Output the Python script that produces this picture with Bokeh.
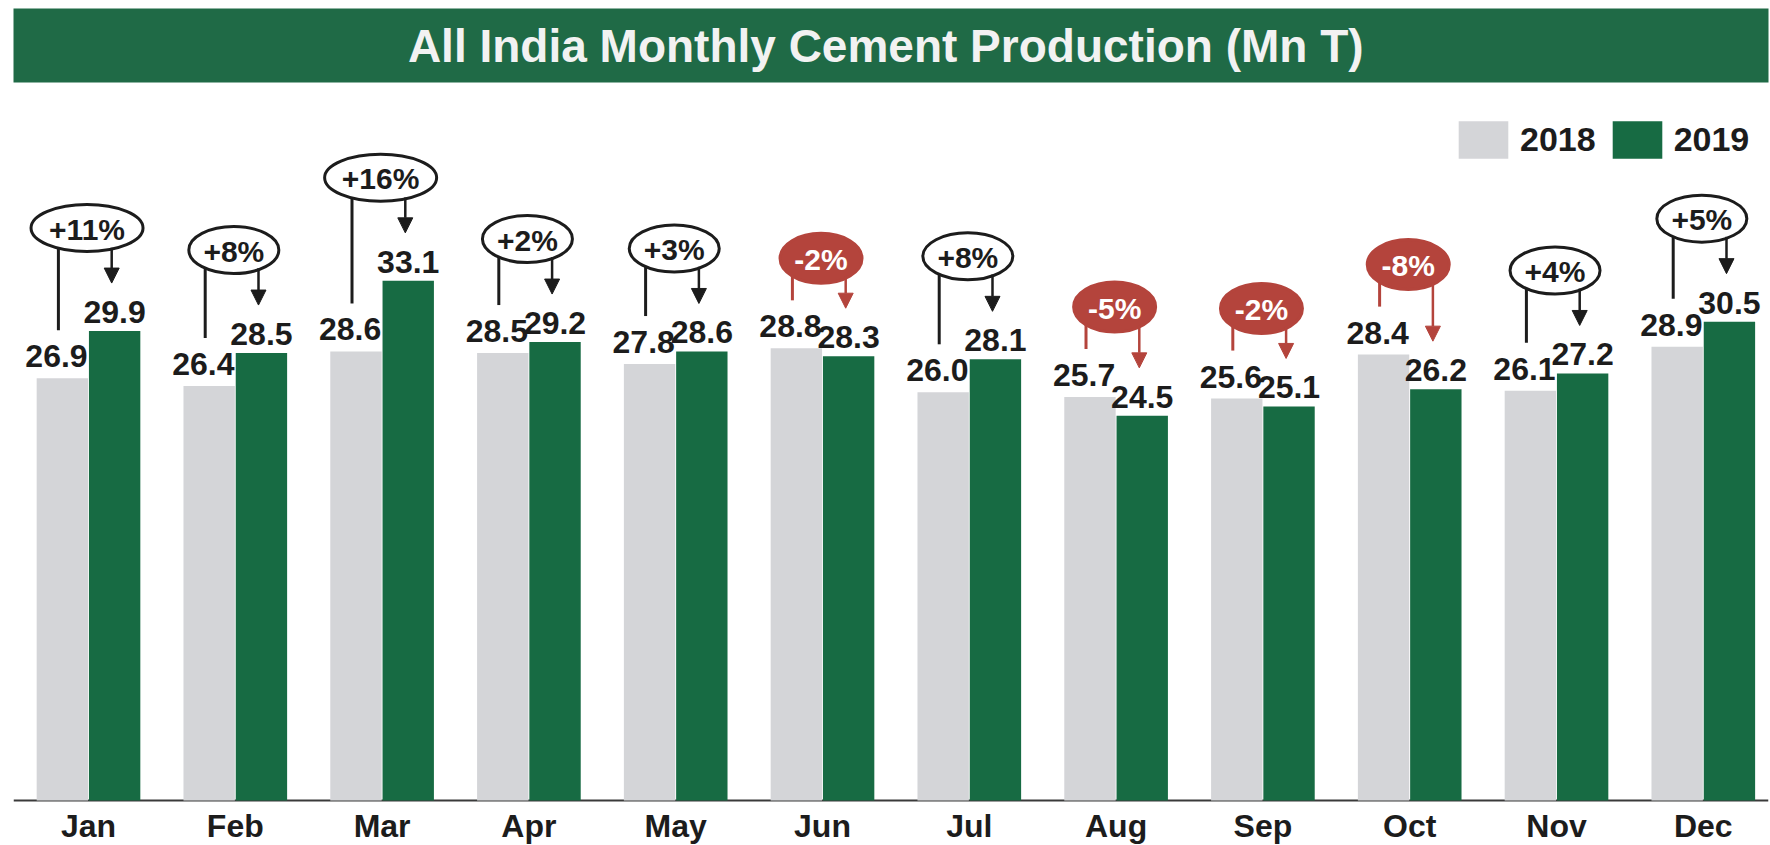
import math
from bokeh.plotting import figure
from bokeh.layouts import column
from bokeh.models import (ColumnDataSource, Range1d, Label, Legend, LegendItem,
                          Span, Arrow, NormalHead)
from bokeh.core.properties import value
from bokeh.embed import file_html
from bokeh.resources import INLINE

# ---------------- data ----------------
months = ["Jan", "Feb", "Mar", "Apr", "May", "Jun",
          "Jul", "Aug", "Sep", "Oct", "Nov", "Dec"]
prod_2018 = [26.9, 26.4, 28.6, 28.5, 27.8, 28.8, 26.0, 25.7, 25.6, 28.4, 26.1, 28.9]
prod_2019 = [29.9, 28.5, 33.1, 29.2, 28.6, 28.3, 28.1, 24.5, 25.1, 26.2, 27.2, 30.5]
growth_pct = [11, 8, 16, 2, 3, -2, 8, -5, -2, -8, 4, 5]
series_names = ["2018", "2019"]
title_text = "All India Monthly Cement Production (Mn T)"

# ---------------- style ----------------
GREEN = "#176b43"
TITLE_GREEN = "#1f6a46"
GREY = "#d4d5d8"
RED = "#b4443c"
INK = "#1c1c1c"
FONT = "Liberation Sans"

W = 1770
HEAD_H = 86
MAIN_H = 759
BL, BR = 13, 2          # side borders shared by both figures
UNIT = 146.8   # px per month slot
PX = 15.7      # px per Mn T
BASE = 714     # px from top of main frame to the zero line

# ---------------- header bar ----------------
header = figure(width=W, height=HEAD_H, x_range=Range1d(0, 1), y_range=Range1d(0, 1),
                toolbar_location=None, output_backend="svg",
                x_axis_location=None, y_axis_location=None,
                min_border_left=BL, min_border_right=BR, min_border_top=8, min_border_bottom=4,
                background_fill_color=TITLE_GREEN, border_fill_color="white",
                outline_line_color=None)
header.grid.visible = False
header.add_layout(Label(x=0.497, y=0.5, text=title_text, text_align="center",
                        text_baseline="middle", text_color="#f2f2f2",
                        text_font=FONT, text_font_size="46px", text_font_style="bold"))

# ---------------- main chart ----------------
FW = W - BL - BR
x0 = -(88 - BL) / UNIT
p = figure(width=W, height=MAIN_H,
           x_range=Range1d(x0, x0 + FW / UNIT),
           y_range=Range1d(-(MAIN_H - BASE) / PX, BASE / PX),
           toolbar_location=None, output_backend="svg",
           x_axis_location=None, y_axis_location=None,
           min_border_left=BL, min_border_right=BR, min_border_top=0, min_border_bottom=0,
           outline_line_color=None,
           background_fill_color="white", border_fill_color="white")
p.grid.visible = False

p.add_layout(Span(location=0, dimension="width", line_color="#3a3a3a",
                  line_width=2, level="underlay"))

OFF = 0.178
BW = 0.35
idx = list(range(len(months)))
x18 = [i - OFF for i in idx]
x19 = [i + OFF for i in idx]

src = ColumnDataSource(dict(
    x18=x18, x19=x19, v18=prod_2018, v19=prod_2019,
    x18l=[x - 0.04 for x in x18],
    t18=[f"{v:.1f}" for v in prod_2018],
    t19=[f"{v:.1f}" for v in prod_2019],
))
r18 = p.vbar(x="x18", top="v18", bottom=0, width=BW, source=src,
             fill_color=GREY, line_color=None)
r19 = p.vbar(x="x19", top="v19", bottom=0, width=BW, source=src,
             fill_color=GREEN, line_color=None)

lab_kw = dict(text_align="center", text_baseline="alphabetic",
              text_font=value(FONT), text_font_size="32px", text_font_style="bold",
              text_color=INK)
p.text(x="x18l", y="v18", text="t18", source=src, y_offset=-22, **lab_kw)
p.text(x="x19", y="v19", text="t19", source=src, y_offset=-19, **lab_kw)

# month labels
p.text(x=idx, y=[0] * len(idx), text=months, y_offset=25,
       text_align="center", text_baseline="middle",
       text_font=value(FONT), text_font_size="32px", text_font_style="bold",
       text_color=INK)

# ---------------- growth call-outs ----------------
ell = dict(x=[], y=[], w=[], h=[], fill=[], line=[], txt=[], tc=[])
segs = {True: dict(x=[], ys=[], ye=[]), False: dict(x=[], ys=[], ye=[])}
arrs = {True: dict(x=[], ys=[], ye=[]), False: dict(x=[], ys=[], ye=[])}

for i, g in enumerate(growth_pct):
    pos = g >= 0
    top = max(prod_2018[i], prod_2019[i])
    ey = top + (103 if pos else 90) / PX
    txt = f"+{g}%" if pos else f"{g}%"
    if pos:
        w = 112 if len(txt) > 3 else 90
        h = 47
    else:
        w, h = 82, 50
    cx = i - 0.01
    ell["x"].append(cx)
    ell["y"].append(ey)
    ell["w"].append(w)
    ell["h"].append(h)
    ell["fill"].append("white" if pos else RED)
    ell["line"].append(INK if pos else RED)
    ell["txt"].append(txt)
    ell["tc"].append(INK if pos else "white")

    def edge(lx, cx=cx, w=w, h=h, ey=ey):
        dx = abs(lx - cx) * UNIT
        r = max(0.0, 1 - (dx / (w / 2)) ** 2)
        return ey - ((h / 2) * math.sqrt(r) - 1.5) / PX

    lx = x18[i] - 0.027
    segs[pos]["x"].append(lx)
    segs[pos]["ys"].append(edge(lx))
    segs[pos]["ye"].append(prod_2018[i] + 48 / PX)

    ax = x19[i] - 0.02
    arrs[pos]["x"].append(ax)
    arrs[pos]["ys"].append(edge(ax))
    arrs[pos]["ye"].append(prod_2019[i] + 48 / PX)

for pos, col in ((True, INK), (False, RED)):
    s = ColumnDataSource(segs[pos])
    p.segment(x0="x", y0="ys", x1="x", y1="ye", source=s,
              line_color=col, line_width=3)
    a = ColumnDataSource(arrs[pos])
    p.add_layout(Arrow(end=NormalHead(size=15, fill_color=col, line_color=col),
                       source=a, x_start="x", y_start="ys", x_end="x", y_end="ye",
                       line_color=col, line_width=2.5))

esrc = ColumnDataSource(ell)
p.ellipse(x="x", y="y", width="w", height="h", width_units="screen",
          height_units="screen", source=esrc, fill_color="fill",
          line_color="line", line_width=3)
p.text(x="x", y="y", text="txt", source=esrc, text_color="tc",
       text_align="center", text_baseline="middle", y_offset=1,
       text_font=value(FONT), text_font_size="30px", text_font_style="bold")

# ---------------- legend ----------------
legend = Legend(items=[LegendItem(label=series_names[0], renderers=[r18]),
                       LegendItem(label=series_names[1], renderers=[r19])],
                orientation="horizontal", location=(1452 - BL, 682),
                glyph_width=62, glyph_height=47, label_standoff=6, spacing=10,
                padding=0, margin=0, border_line_color=None,
                background_fill_alpha=0,
                label_text_font=FONT, label_text_font_size="34px",
                label_text_font_style="bold", label_text_color=INK)
p.add_layout(legend)

layout = column(header, p, spacing=0)
open("out.html", "w").write(file_html(layout, INLINE))
